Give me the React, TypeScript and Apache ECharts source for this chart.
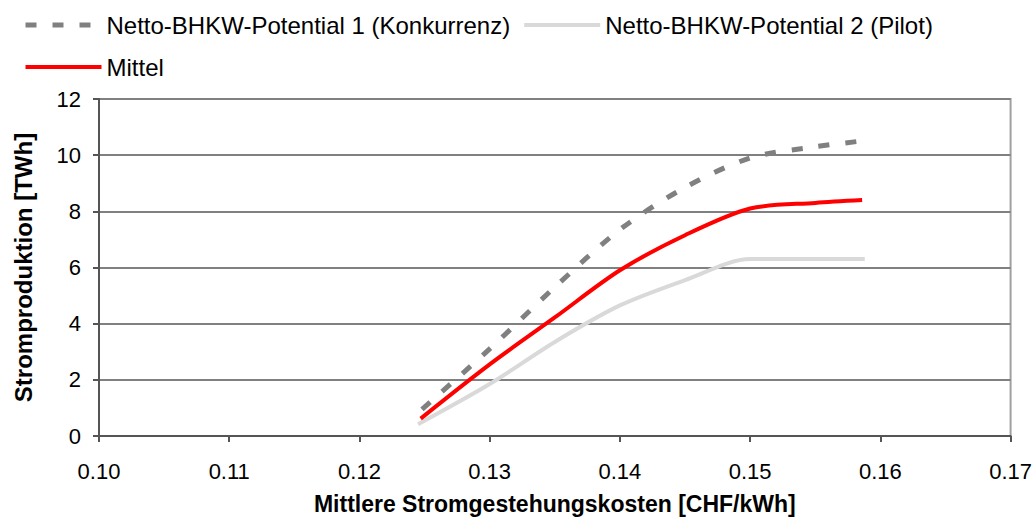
import React, { useEffect, useRef } from "react";
import * as echarts from "echarts";

const seriesNames = [
  "Netto-BHKW-Potential 1 (Konkurrenz)",
  "Netto-BHKW-Potential 2 (Pilot)",
  "Mittel",
];

// [Mittlere Stromgestehungskosten CHF/kWh, Stromproduktion TWh]
const potential1 = [
  [0.1248, 0.95],
  [0.13, 3.1],
  [0.135, 5.3],
  [0.14, 7.35],
  [0.145, 8.85],
  [0.15, 9.9],
  [0.155, 10.3],
  [0.1585, 10.5],
];
const potential2 = [
  [0.1245, 0.42],
  [0.13, 1.85],
  [0.135, 3.35],
  [0.14, 4.65],
  [0.145, 5.55],
  [0.15, 6.3],
  [0.155, 6.3],
  [0.1588, 6.3],
];
const mittel = [
  [0.1247, 0.62],
  [0.13, 2.55],
  [0.135, 4.22],
  [0.14, 5.9],
  [0.145, 7.15],
  [0.15, 8.1],
  [0.155, 8.3],
  [0.1586, 8.4],
];

const xTicks = { min: 0.1, max: 0.17, interval: 0.01 };
const yTicks = { min: 0, max: 12, interval: 2 };

const FONT = "'Liberation Sans', Arial, sans-serif";

export default function App() {
  const ref = useRef<HTMLDivElement>(null);

  useEffect(() => {
    document.body.style.margin = "0";
    if (!ref.current) return;
    const chart = echarts.init(ref.current, null, { renderer: "svg" });
    chart.setOption({
      animation: false,
      backgroundColor: "#ffffff",
      textStyle: { fontFamily: FONT },
      legend: {
        left: 18,
        top: 5,
        width: 920,
        itemWidth: 76,
        itemHeight: 14,
        itemGap: 12,
        textStyle: { fontFamily: FONT, fontSize: 24, color: "#000", lineHeight: 30 },
        lineStyle: { width: "inherit" },
        itemStyle: { opacity: 0 },
        data: seriesNames,
      },
      grid: {
        left: 99,
        right: 24,
        top: 99,
        bottom: 82,
        show: true,
        borderColor: "#a0a0a0",
        borderWidth: 2,
        backgroundColor: "transparent",
      },
      xAxis: {
        type: "value",
        min: xTicks.min,
        max: xTicks.max,
        interval: xTicks.interval,
        name: "Mittlere Stromgestehungskosten [CHF/kWh]",
        nameLocation: "middle",
        nameGap: 56,
        nameTextStyle: { fontFamily: FONT, fontSize: 23, fontWeight: "bold", color: "#000" },
        axisLine: { show: true, lineStyle: { color: "#555", width: 2 } },
        axisTick: { show: true, length: 6, lineStyle: { color: "#555", width: 2 } },
        axisLabel: {
          fontFamily: FONT,
          fontSize: 22,
          color: "#000",
          margin: 24,
          formatter: (v: number) => v.toFixed(2),
        },
        splitLine: { show: false },
      },
      yAxis: {
        type: "value",
        min: yTicks.min,
        max: yTicks.max,
        interval: yTicks.interval,
        name: "Stromproduktion [TWh]",
        nameLocation: "middle",
        nameGap: 64,
        nameTextStyle: { fontFamily: FONT, fontSize: 24, fontWeight: "bold", color: "#000" },
        axisLine: { show: true, lineStyle: { color: "#555", width: 2 } },
        axisTick: { show: true, length: 6, lineStyle: { color: "#555", width: 2 } },
        axisLabel: { fontFamily: FONT, fontSize: 22, color: "#000", margin: 18 },
        splitLine: { show: true, lineStyle: { color: "#808080", width: 2 } },
      },
      series: [
        {
          name: seriesNames[0],
          type: "line",
          data: potential1,
          smooth: 0.3,
          symbol: "none",
          lineStyle: { color: "#808080", width: 5, type: [11, 16] },
          itemStyle: { color: "#808080" },
          z: 3,
        },
        {
          name: seriesNames[1],
          type: "line",
          data: potential2,
          smooth: 0.3,
          symbol: "none",
          lineStyle: { color: "#d9d9d9", width: 4 },
          itemStyle: { color: "#d9d9d9" },
          z: 2,
        },
        {
          name: seriesNames[2],
          type: "line",
          data: mittel,
          smooth: 0.3,
          symbol: "none",
          lineStyle: { color: "#ff0000", width: 4 },
          itemStyle: { color: "#ff0000" },
          z: 4,
        },
      ],
    });
    return () => chart.dispose();
  }, []);

  return <div ref={ref} style={{ width: 1035, height: 520 }} />;
}
